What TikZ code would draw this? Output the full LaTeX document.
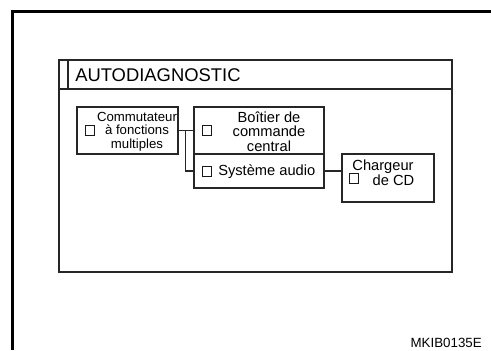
\documentclass[tikz,border=0pt]{standalone}
\usepackage{fontspec}
\setmainfont{Liberation Sans}
\begin{document}
\begin{tikzpicture}[x=0.75pt,y=-0.75pt,
  line/.style={draw=black!85,line width=1pt},
  frame/.style={draw=black,line width=2.4pt},
  box/.style={line,rectangle,inner sep=0pt},
  chk/.style={draw=black!90,line width=0.9pt,rectangle,minimum size=7.2pt,inner sep=0pt},
  lbl/.style={inner sep=0pt,align=center,font=\fontsize{11}{10.9}\selectfont},
  small/.style={inner sep=0pt,align=center,font=\fontsize{9.9}{10.2}\selectfont}]
\useasboundingbox (0,0) rectangle (491,350);
\fill[white] (0,0) rectangle (491,350);
% outer frame
\draw[frame] (12.5,350) -- (12.5,11.5) -- (491,11.5);
% panel
\draw[line] (59,60) rectangle (452,272);
\draw[line] (59,89) -- (452,89);
\draw[line] (68,60) -- (68,89);
\node[anchor=base west,inner sep=0pt,font=\fontsize{13.8}{14}\selectfont] (title) at (75,81) {AUTODIAGNOSTIC};
% boxes
\node[box,minimum width=101*0.75pt,minimum height=47*0.75pt] (b1) at (127.5,130.5) {};
\node[box,minimum width=130*0.75pt,minimum height=47*0.75pt] (b2) at (259,130.5) {};
\node[box,minimum width=130*0.75pt,minimum height=34*0.75pt] (b3) at (259,171) {};
\node[box,minimum width=92*0.75pt,minimum height=48*0.75pt] (b4) at (388,178) {};
% checkboxes
\node[chk] (c1) at (90,130.5) {};
\node[chk] (c2) at (207,130.5) {};
\node[chk] (c3) at (207,171.5) {};
\node[chk] (c4) at (354,178.5) {};
% texts
\node[small] (t1) at (137,131.5) {Commutateur\\à fonctions\\multiples};
\node[lbl] (t2) at (269,131.5) {Boîtier de\\commande\\central};
\node[lbl,anchor=west] (t3) at (218,171.5) {Système audio};
\node[lbl] (t4a) at (383,167) {Chargeur};
\node[lbl] (t4b) at (393.5,180) {de CD};
% connectors
\draw[line] (b1.east) -- (b2.west);
\coordinate (j) at (185.5,130.5);
\draw[line] (j) |- (b3.west);
\draw[line] (b3.east) -- (b3.east -| b4.west);
% code
\node[anchor=base east,inner sep=0pt,font=\fontsize{10}{10}\selectfont] (code) at (482,347.5) {MKIB0135E};
\end{tikzpicture}
\end{document}
